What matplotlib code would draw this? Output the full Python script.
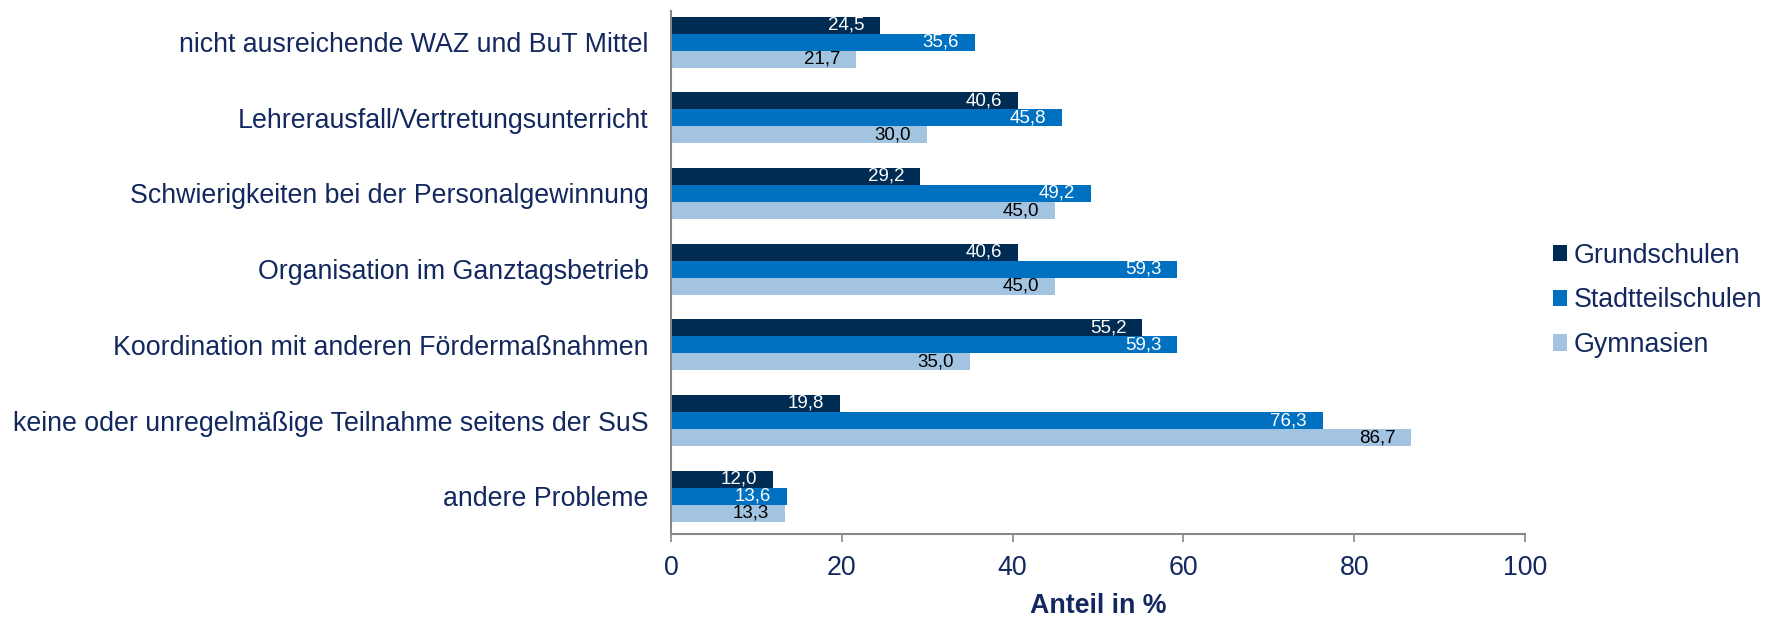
import matplotlib
matplotlib.use("Agg")
import matplotlib.pyplot as plt
import numpy as np

plt.rcParams["font.family"] = ["Liberation Sans", "DejaVu Sans"]

categories = [
    "nicht ausreichende WAZ und BuT Mittel",
    "Lehrerausfall/Vertretungsunterricht",
    "Schwierigkeiten bei der Personalgewinnung",
    "Organisation im Ganztagsbetrieb",
    "Koordination mit anderen Fördermaßnahmen",
    "keine oder unregelmäßige Teilnahme seitens der SuS",
    "andere Probleme",
]
grundschulen = [24.5, 40.6, 29.2, 40.6, 55.2, 19.8, 12.0]
stadtteilschulen = [35.6, 45.8, 49.2, 59.3, 59.3, 76.3, 13.6]
gymnasien = [21.7, 30.0, 45.0, 45.0, 35.0, 86.7, 13.3]
series_names = ["Grundschulen", "Stadtteilschulen", "Gymnasien"]

colors = ["#002b52", "#0070c0", "#a2c4e0"]
label_colors = ["white", "white", "black"]
navy = "#12285e"

fig = plt.figure(figsize=(17.77, 6.17), dpi=100)
ax = fig.add_axes([0.3776, 0.1345, 0.4806, 0.8475])

y = np.arange(len(categories))
h = 0.225
for i, (vals, name) in enumerate(zip([grundschulen, stadtteilschulen, gymnasien], series_names)):
    pos = y + (i - 1) * h
    ax.barh(pos, vals, height=h, color=colors[i], label=name)
    for p, v in zip(pos, vals):
        ax.annotate(f"{v:.1f}".replace(".", ","), (v, p), xytext=(-11.5, 0),
                    textcoords="offset points", ha="right", va="center",
                    fontsize=13.5, color=label_colors[i])

ax.set_ylim(6.5, -0.41)
ax.set_xlim(0, 100)
ax.set_yticks(y)
ax.set_yticklabels(categories, fontsize=19.3, color=navy)
ax.tick_params(axis="y", length=0, pad=16)
ax.set_xticks(range(0, 101, 20))
ax.tick_params(axis="x", labelsize=19.3, labelcolor=navy, color="#888888",
               length=6, width=1.2, pad=9)
ax.set_xlabel("Anteil in %", fontsize=19.3, fontweight="bold", color=navy, labelpad=9)

for s in ["top", "right"]:
    ax.spines[s].set_visible(False)
for s in ["left", "bottom"]:
    ax.spines[s].set_color("#888888")
    ax.spines[s].set_linewidth(1.5)

leg = ax.legend(loc="center left", bbox_to_anchor=(1.004, 0.447), frameon=False,
                fontsize=19.3, handlelength=0.55, handleheight=0.55,
                handletextpad=0.25, labelspacing=0.7)
for t in leg.get_texts():
    t.set_color(navy)

fig.savefig("out.png", dpi=100)
